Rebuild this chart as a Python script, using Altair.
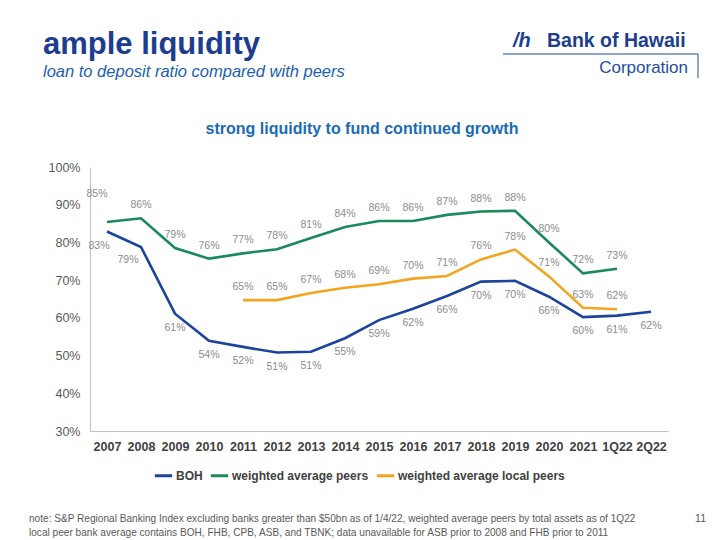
import altair as alt
import pandas as pd

categories = ["2007", "2008", "2009", "2010", "2011", "2012", "2013", "2014", "2015",
              "2016", "2017", "2018", "2019", "2020", "2021", "1Q22", "2Q22"]
series_names = ["BOH", "weighted average peers", "weighted average local peers"]
boh = [82.9, 78.8, 61.1, 53.9, 52.3, 50.8, 51.0, 54.6, 59.4, 62.4, 65.8, 69.6, 69.8, 65.6, 60.2, 60.6, 61.6]
peers = [85.4, 86.4, 78.5, 75.7, 77.1, 78.2, 81.2, 84.1, 85.7, 85.7, 87.3, 88.2, 88.4, 80.0, 71.8, 73.0, None]
local_peers = [None, None, None, None, 64.7, 64.7, 66.6, 68.0, 68.9, 70.4, 71.1, 75.5, 78.1, 71.0, 62.7, 62.3, None]
y_ticks = [30, 40, 50, 60, 70, 80, 90, 100]

colors = ["#1d449c", "#1b8a5a", "#f2a61f"]
FONT = "Liberation Sans"

rows = []
for name, vals in zip(series_names, [boh, peers, local_peers]):
    for c, v in zip(categories, vals):
        if v is not None:
            rows.append({"category": c, "series": name, "value": v})
df = pd.DataFrame(rows)

# label offsets (styling)
default_off = {"BOH": (0, 14), "weighted average peers": (0, -13), "weighted average local peers": (0, -13)}
special_off = {("weighted average peers", "2007"): (-10, -28),
               ("BOH", "2007"): (-8, 15),
               ("BOH", "2008"): (-13, 13)}
df["off"] = [str(special_off.get((s, c), default_off[s])) for s, c in zip(df["series"], df["category"])]

W, H = 578, 264
xenc = alt.X("category:N", sort=categories,
             scale=alt.Scale(type="point", padding=0.5, domain=categories),
             axis=alt.Axis(title=None, labelAngle=0, labelFont=FONT, labelFontSize=12.5,
                           labelFontWeight="bold", labelColor="#404040", ticks=False,
                           domainColor="#bfbfbf", labelPadding=9, grid=False))
yenc = alt.Y("value:Q", scale=alt.Scale(domain=[30, 100], nice=False, zero=False),
             axis=alt.Axis(title=None, values=y_ticks, labelExpr="datum.value + '%'",
                           labelFont=FONT, labelFontSize=12.5, labelColor="#595959",
                           ticks=False, grid=False, domainColor="#bfbfbf", labelPadding=10))

lines = alt.Chart(df).mark_line(strokeWidth=2.6).encode(
    x=xenc, y=yenc,
    color=alt.Color("series:N", scale=alt.Scale(domain=series_names, range=colors),
                    legend=alt.Legend(title=None, orient="none", direction="horizontal",
                                      legendX=63, legendY=298, symbolType="stroke",
                                      symbolSize=300, symbolStrokeWidth=3,
                                      labelFont=FONT, labelFontSize=12, labelFontWeight="bold",
                                      labelColor="#404040", labelOffset=2, columnPadding=1,
                                      labelLimit=0)),
    detail="series:N")

layers = [lines]
for off in sorted(df["off"].unique()):
    dx, dy = eval(off)
    layers.append(
        alt.Chart(df).transform_filter(alt.datum.off == off)
        .transform_calculate(lab="format(datum.value, '.0f') + '%'")
        .mark_text(dx=dx, dy=dy, font=FONT, fontSize=10.5, color="#8c8c8c", baseline="middle")
        .encode(x=xenc, y=yenc, text="lab:N"))

one = pd.DataFrame({"a": [0]})

def txt(s, x, y, size, color, weight="normal", style="normal", align="left", font=FONT):
    return alt.Chart(one).mark_text(text=s, font=font, fontSize=size, color=color,
                                    fontWeight=weight, fontStyle=style, align=align,
                                    baseline="alphabetic").encode(x=alt.value(x), y=alt.value(y))

L, T = 90, 167
layers += [
    txt("ample liquidity", 43 - L, 54 - T, 31, "#1f3d8f", weight="bold"),
    txt("loan to deposit ratio compared with peers", 43 - L, 77 - T, 16.5, "#2060b0", style="italic"),
    txt("strong liquidity to fund continued growth", 362 - L, 134 - T, 16, "#1a6bb5", weight="bold", align="center"),
    txt("/h", 513 - L, 47 - T, 20, "#1c3f8f", weight="bold", style="italic"),
    txt("Bank of Hawaii", 547 - L, 47 - T, 19.5, "#1c3f8f", weight="bold"),
    txt("Corporation", 688 - L, 73 - T, 17, "#1f4e9c", align="right"),
    txt("note: S&P Regional Banking Index excluding banks greater than $50bn as of 1/4/22, weighted average peers by total assets as of 1Q22",
        29 - L, 522 - T, 10.1, "#595959"),
    txt("local peer bank average contains BOH, FHB, CPB, ASB, and TBNK; data unavailable for ASB prior to 2008 and FHB prior to 2011",
        29 - L, 536 - T, 10.1, "#595959"),
    txt("11", 706 - L, 522 - T, 10.5, "#595959", align="right"),
    alt.Chart(one).mark_rule(color="#1f4e9c", strokeWidth=1).encode(
        x=alt.value(503 - L), x2=alt.value(698 - L), y=alt.value(54 - T)),
    alt.Chart(one).mark_rule(color="#1f4e9c", strokeWidth=1).encode(
        x=alt.value(698 - L), y=alt.value(54 - T), y2=alt.value(78 - T)),
]

chart = alt.layer(*layers).properties(
    width=W, height=H,
    autosize=alt.AutoSizeParams(type="none"),
    padding={"left": L, "top": T, "right": 720 - L - W, "bottom": 540 - T - H},
    background="white",
).configure_view(stroke=None)

chart.save("out.html", embed_options={"renderer": "svg", "actions": False})
